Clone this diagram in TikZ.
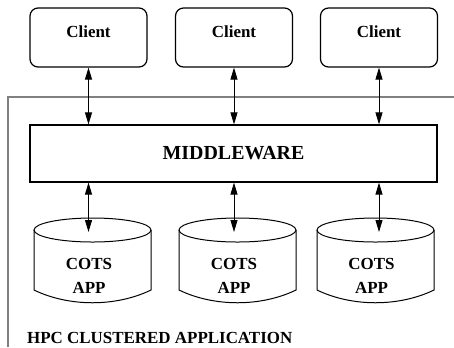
\documentclass[tikz,border=0pt]{standalone}
\usepackage{fontspec}
\setmainfont{Liberation Serif}
\usetikzlibrary{arrows.meta, calc}
\definecolor{framegray}{RGB}{128,128,128}
\tikzset{
  clientbox/.style={rectangle, draw, rounded corners=8bp, line width=1.2bp,
    minimum width=117bp, minimum height=59bp, text height=12bp, text depth=12bp,
    font=\fontsize{17}{20}\selectfont\bfseries},
  mwbox/.style={rectangle, draw, line width=1.2bp, minimum width=407bp,
    minimum height=57bp, font=\fontsize{20}{24}\selectfont\bfseries},
  dbtext/.style={align=center, inner sep=0pt, font=\fontsize{17}{24}\selectfont\bfseries},
  dbline/.style={line width=1bp},
  biarrow/.style={{Triangle[length=12bp,width=7bp]}-{Triangle[length=12bp,width=7bp]}, line width=0.9bp},
  clusterframe/.style={draw=framegray, line width=1.5bp}
}

\begin{document}
\begin{tikzpicture}[x=1bp, y=-1bp]
  \useasboundingbox (0,0) rectangle (454,347);

  % cluster frame, open at right and bottom
  \draw[clusterframe] (8,347) -- (8,97) -- (454,97);
  \node[anchor=base west, inner sep=0pt, font=\fontsize{17}{20}\selectfont\bfseries] (hpc) at (27,343) {HPC CLUSTERED APPLICATION};

  % Middleware
  \node[mwbox] (mw) at (233.5,153.5) {MIDDLEWARE};

  % Clients and COTS apps
  \foreach \n/\ax/\cx/\tx in {1/88.5/92.5/89, 2/234/237.5/234, 3/379/375.5/371.5} {
    \node[clientbox] (client\n) at (\ax,37.5) {Client};
    \draw[dbline] (\cx,230) ellipse [x radius=58.5bp, y radius=12bp];
    \draw[dbline] (\cx-58.5,230) -- (\cx-58.5,290)
      .. controls (\cx-23.5,307) and (\cx+23.5,307) .. (\cx+58.5,290) -- (\cx+58.5,230);
    \node[dbtext] (app\n) at (\tx,276) {COTS\\APP};
    \coordinate (top\n) at (\ax,232);
    \draw[biarrow] (client\n.south) -- (client\n.south |- mw.north);
    \draw[biarrow] (client\n.south |- mw.south) -- (top\n);
  }
\end{tikzpicture}
\end{document}
